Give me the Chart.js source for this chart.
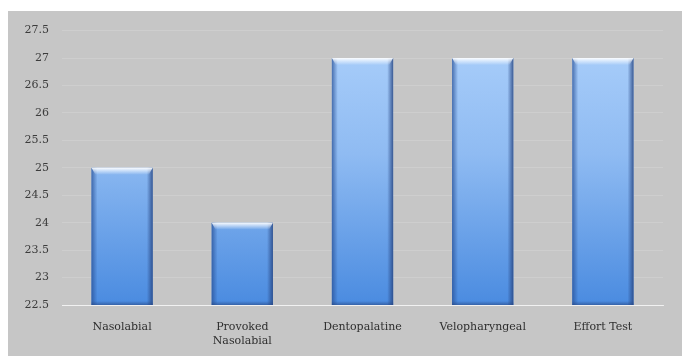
<!DOCTYPE html>
<html>
<head>
<meta charset="utf-8">
<script src="https://cdn.jsdelivr.net/npm/chart.js@4"></script>
<style>
  html, body { margin: 0; padding: 0; background: #ffffff; }
  #box { position: absolute; left: 8px; top: 11px; width: 674px; height: 345px; background: #c6c6c6; }
</style>
</head>
<body>
<div id="box"><canvas id="chart" width="674" height="345"></canvas></div>
<script>
// Datos
const categories = [['Nasolabial'], ['Provoked', 'Nasolabial'], ['Dentopalatine'], ['Velopharyngeal'], ['Effort Test']];
const values = [25, 24, 27, 27, 27];
const yMin = 22.5;
const yMax = 27.5;
const yStep = 0.5;

// Relleno degradado vertical de las barras
function barFill(context) {
  const chart = context.chart;
  const area = chart.chartArea;
  if (!area) return '#6fa6ec';
  const g = chart.ctx.createLinearGradient(0, area.top, 0, area.bottom);
  g.addColorStop(0, '#acd0fb');
  g.addColorStop(0.45, '#8fbbf2');
  g.addColorStop(1, '#4a8be0');
  return g;
}

// Bisel: bordes oscuros y brillo superior
const bevel = {
  id: 'bevel',
  afterDatasetsDraw(chart) {
    const ctx = chart.ctx;
    const area = chart.chartArea;
    chart.getDatasetMeta(0).data.forEach(bar => {
      const left = bar.x - bar.width / 2;
      const right = bar.x + bar.width / 2;
      const top = bar.y;
      const bottom = Math.min(bar.base, area.bottom);
      ctx.save();
      let g = ctx.createLinearGradient(left, 0, left + 6, 0);
      g.addColorStop(0, 'rgba(40,80,150,0.75)');
      g.addColorStop(1, 'rgba(40,80,150,0)');
      ctx.fillStyle = g;
      ctx.fillRect(left, top, 6, bottom - top);
      g = ctx.createLinearGradient(right, 0, right - 6, 0);
      g.addColorStop(0, 'rgba(40,70,130,0.85)');
      g.addColorStop(1, 'rgba(40,70,130,0)');
      ctx.fillStyle = g;
      ctx.fillRect(right - 6, top, 6, bottom - top);
      // borde inferior
      g = ctx.createLinearGradient(0, bottom, 0, bottom - 4);
      g.addColorStop(0, 'rgba(40,70,130,0.6)');
      g.addColorStop(1, 'rgba(40,70,130,0)');
      ctx.fillStyle = g;
      ctx.fillRect(left, bottom - 4, right - left, 4);
      // brillo superior
      g = ctx.createLinearGradient(0, top, 0, top + 7);
      g.addColorStop(0, 'rgba(255,255,255,0.95)');
      g.addColorStop(1, 'rgba(255,255,255,0)');
      ctx.fillStyle = g;
      ctx.beginPath();
      ctx.moveTo(left, top);
      ctx.lineTo(right, top);
      ctx.lineTo(right - 4, top + 7);
      ctx.lineTo(left + 4, top + 7);
      ctx.closePath();
      ctx.fill();
      ctx.restore();
    });
  }
};

const ctx = document.getElementById('chart').getContext('2d');
new Chart(ctx, {
  type: 'bar',
  data: {
    labels: categories,
    datasets: [{
      data: values,
      backgroundColor: barFill,
      borderWidth: 0,
      barPercentage: 0.51,
      categoryPercentage: 1.0
    }]
  },
  options: {
    responsive: false,
    animation: false,
    layout: { padding: { top: 19, right: 19, left: 0, bottom: 0 } },
    plugins: { legend: { display: false }, tooltip: { enabled: false } },
    scales: {
      y: {
        min: yMin,
        max: yMax,
        afterFit: s => { s.width = 54; },
        ticks: {
          stepSize: yStep,
          padding: 13,
          color: '#3c3c3c',
          font: { family: 'DejaVu Serif', size: 11 },
          callback: v => String(v)
        },
        grid: { color: 'rgba(255,255,255,0.15)', drawTicks: false },
        border: { display: false }
      },
      x: {
        afterFit: s => { s.height = 51; },
        ticks: {
          padding: 8,
          color: '#2e2e2e',
          font: { family: 'DejaVu Serif', size: 11 },
          maxRotation: 0
        },
        grid: { display: false },
        border: { color: 'rgba(255,255,255,0.7)', width: 1 }
      }
    }
  },
  plugins: [bevel]
});
</script>
</body>
</html>
